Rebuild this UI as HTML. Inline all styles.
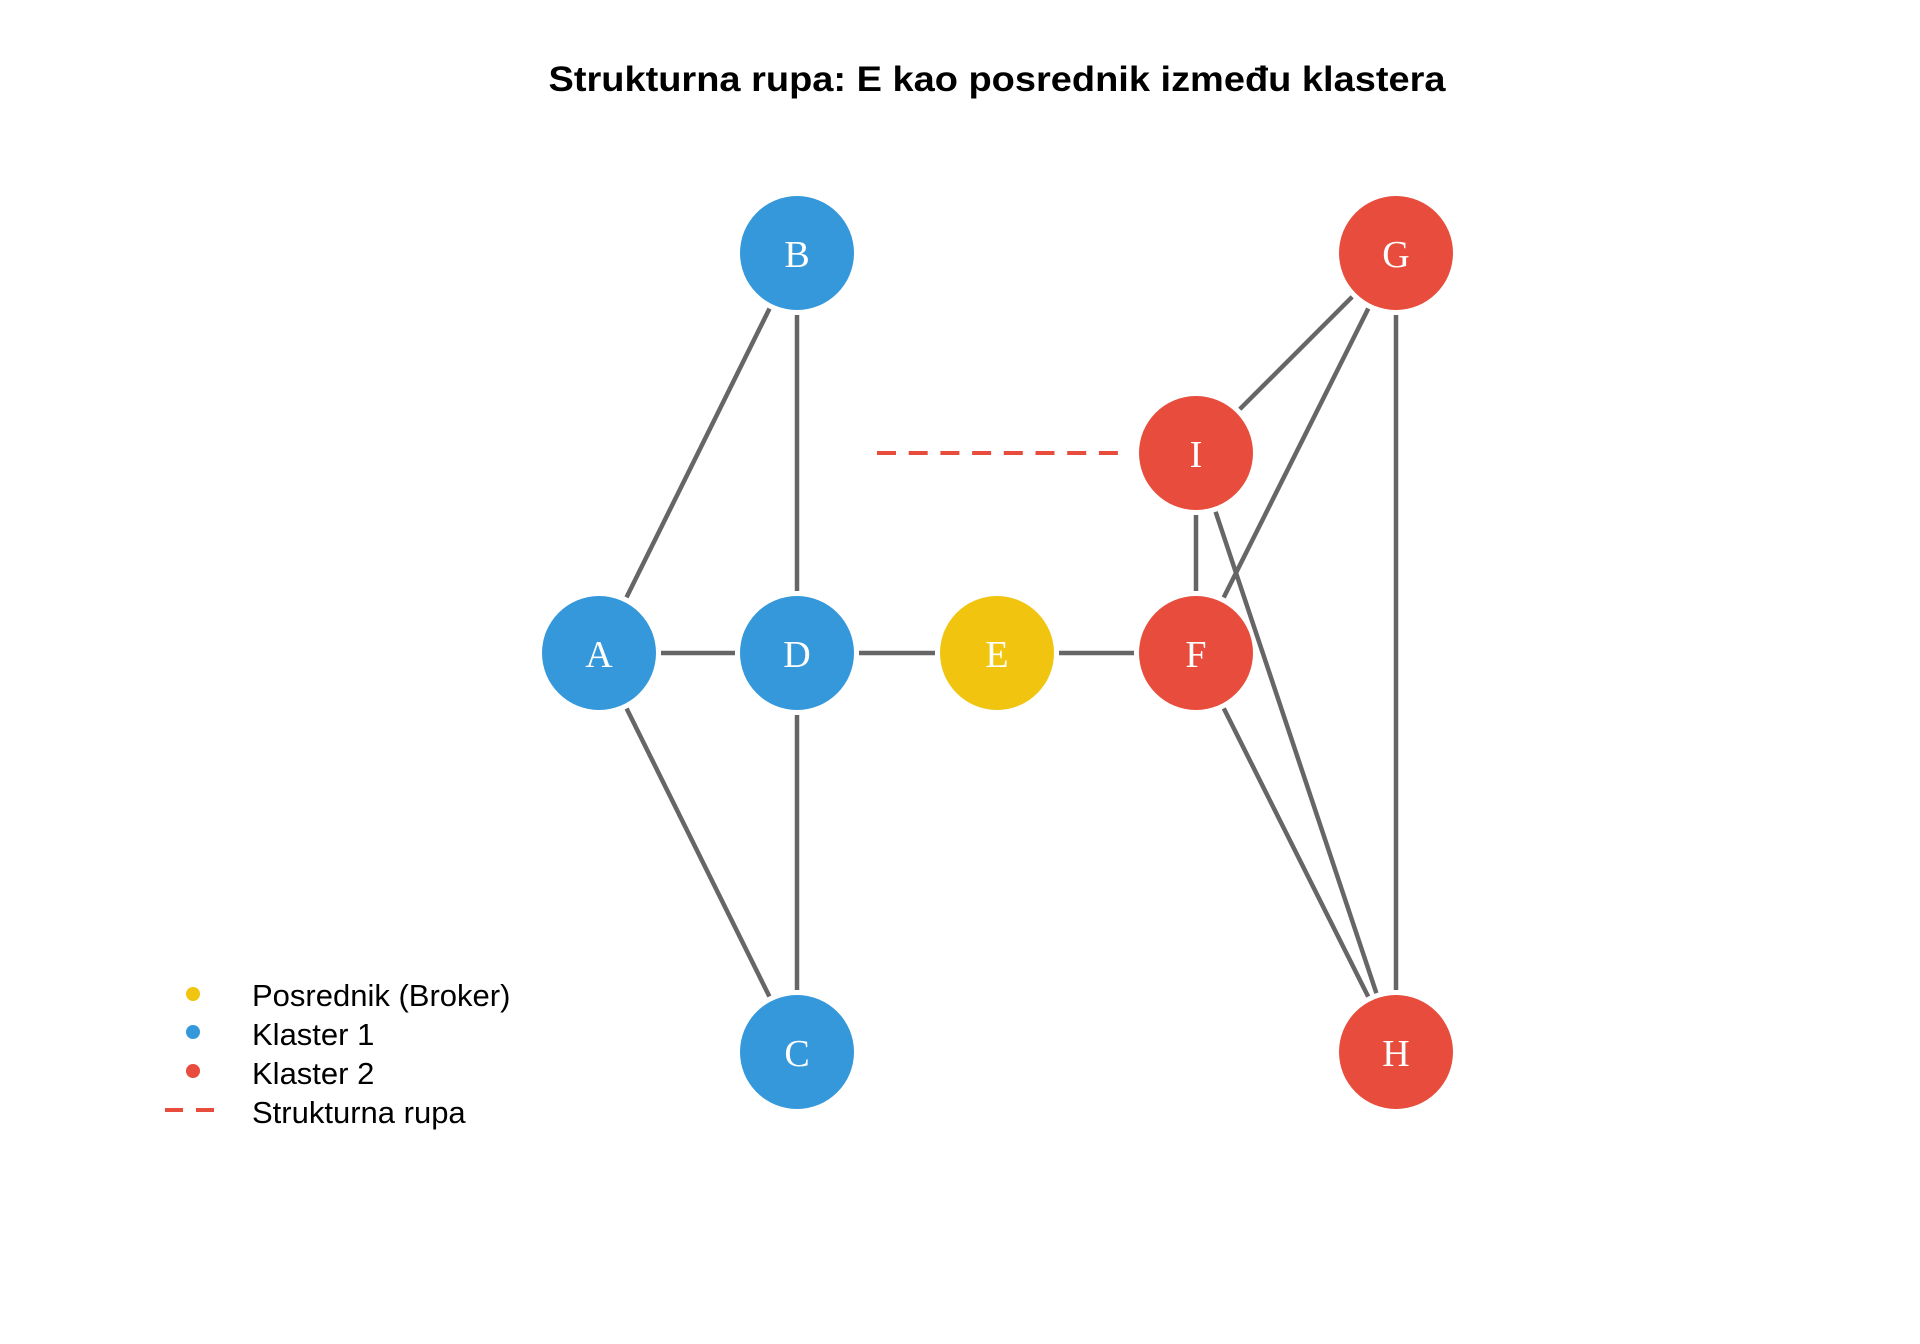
<!DOCTYPE html>
<html><head><meta charset="utf-8"><style>html,body{margin:0;padding:0;background:#fff}svg{display:block}</style></head>
<body>
<svg width="1920" height="1344" viewBox="0 0 1920 1344" xmlns="http://www.w3.org/2000/svg">
<rect width="1920" height="1344" fill="#fff"/>
<text x="997" y="91" text-anchor="middle" font-family="Liberation Sans, sans-serif" font-weight="bold" font-size="35" textLength="897" lengthAdjust="spacingAndGlyphs" fill="#000">Strukturna rupa: E kao posrednik između klastera</text>
<g stroke="#666" stroke-width="4.5" stroke-linecap="butt">
<line x1="626.5" y1="597.4" x2="769.5" y2="308.6"/>
<line x1="661" y1="653" x2="735" y2="653"/>
<line x1="626.6" y1="708.5" x2="769.4" y2="996.5"/>
<line x1="797" y1="315" x2="797" y2="591"/>
<line x1="797" y1="715" x2="797" y2="990"/>
<line x1="859" y1="653" x2="935" y2="653"/>
<line x1="1059" y1="653" x2="1134" y2="653"/>
<line x1="1196" y1="591" x2="1196" y2="515"/>
<line x1="1352.2" y1="296.8" x2="1239.8" y2="409.2"/>
<line x1="1368.3" y1="308.5" x2="1223.7" y2="597.5"/>
<line x1="1396" y1="315" x2="1396" y2="990"/>
<line x1="1215.6" y1="511.8" x2="1376.4" y2="993.2"/>
<line x1="1223.8" y1="708.4" x2="1368.2" y2="996.6"/>
</g>
<line x1="877" y1="453" x2="1122" y2="453" stroke="#e74c3c" stroke-width="4" stroke-dasharray="19,12.7"/>
<g font-family="Liberation Serif, serif" font-size="38" fill="#fff" text-anchor="middle">
<circle cx="599" cy="653" r="57" fill="#3498db"/><text x="599" y="667">A</text>
<circle cx="797" cy="253" r="57" fill="#3498db"/><text x="797" y="267">B</text>
<circle cx="797" cy="1052" r="57" fill="#3498db"/><text x="797" y="1066">C</text>
<circle cx="797" cy="653" r="57" fill="#3498db"/><text x="797" y="667">D</text>
<circle cx="997" cy="653" r="57" fill="#f1c40f"/><text x="997" y="667">E</text>
<circle cx="1196" cy="653" r="57" fill="#e74c3c"/><text x="1196" y="667">F</text>
<circle cx="1396" cy="253" r="57" fill="#e74c3c"/><text x="1396" y="267">G</text>
<circle cx="1396" cy="1052" r="57" fill="#e74c3c"/><text x="1396" y="1066">H</text>
<circle cx="1196" cy="453" r="57" fill="#e74c3c"/><text x="1196" y="467">I</text>
</g>
<circle cx="193" cy="994" r="7" fill="#f1c40f"/>
<circle cx="193" cy="1032" r="7" fill="#3498db"/>
<circle cx="193" cy="1071" r="7" fill="#e74c3c"/>
<line x1="165" y1="1110" x2="217" y2="1110" stroke="#e74c3c" stroke-width="4" stroke-dasharray="18,13"/>
<g font-family="Liberation Sans, sans-serif" font-size="31" fill="#000">
<text x="252" y="1006">Posrednik (Broker)</text>
<text x="252" y="1045">Klaster 1</text>
<text x="252" y="1084">Klaster 2</text>
<text x="252" y="1123">Strukturna rupa</text>
</g>
</svg>
</body></html>
